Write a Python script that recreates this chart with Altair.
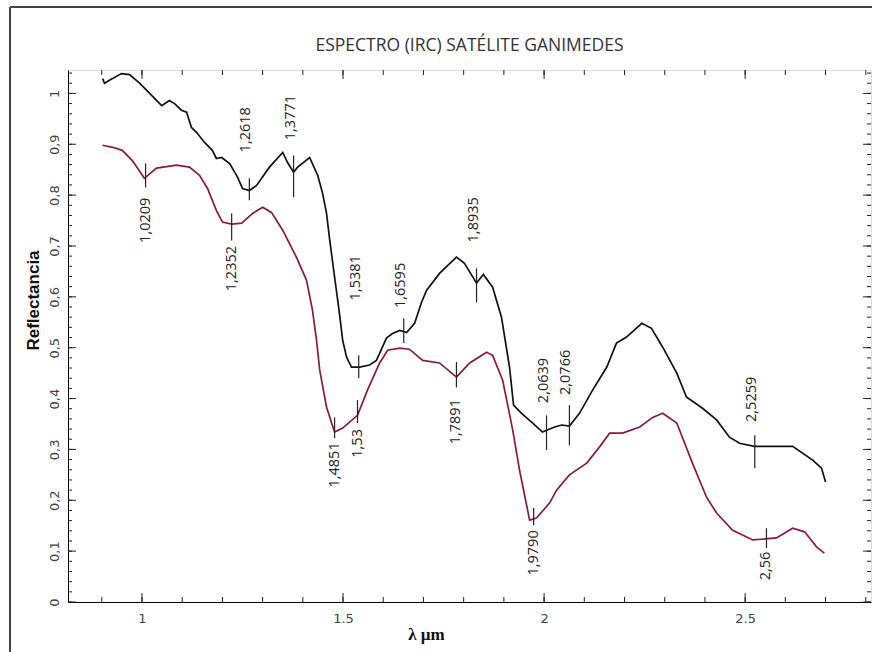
import altair as alt
import pandas as pd

# ---------------- data ----------------
black_x = [0.902, 0.907, 0.919, 0.949, 0.969, 0.994, 1.024, 1.049, 1.068, 1.081,
           1.098, 1.111, 1.123, 1.136, 1.155, 1.175, 1.185, 1.198, 1.218, 1.238,
           1.250, 1.267, 1.285, 1.317, 1.350, 1.362, 1.377, 1.387, 1.417, 1.437,
           1.449, 1.459, 1.466, 1.479, 1.491, 1.499, 1.509, 1.521, 1.541, 1.566,
           1.583, 1.608, 1.623, 1.641, 1.658, 1.678, 1.695, 1.708, 1.740, 1.782,
           1.802, 1.832, 1.849, 1.872, 1.894, 1.914, 1.924, 1.944, 1.971, 1.996,
           2.026, 2.044, 2.063, 2.088, 2.121, 2.156, 2.180, 2.205, 2.243, 2.267,
           2.295, 2.330, 2.354, 2.394, 2.429, 2.461, 2.486, 2.523, 2.618, 2.668,
           2.690, 2.700]
black_y = [1.029, 1.020, 1.026, 1.039, 1.037, 1.020, 0.996, 0.976, 0.986, 0.980,
           0.967, 0.963, 0.933, 0.923, 0.904, 0.888, 0.872, 0.874, 0.862, 0.835,
           0.813, 0.809, 0.819, 0.855, 0.884, 0.864, 0.845, 0.855, 0.874, 0.839,
           0.804, 0.764, 0.717, 0.639, 0.568, 0.515, 0.481, 0.462, 0.462, 0.466,
           0.475, 0.519, 0.528, 0.534, 0.530, 0.548, 0.589, 0.613, 0.646, 0.678,
           0.666, 0.627, 0.644, 0.619, 0.560, 0.462, 0.387, 0.371, 0.352, 0.334,
           0.344, 0.348, 0.346, 0.371, 0.417, 0.462, 0.509, 0.521, 0.548, 0.538,
           0.501, 0.450, 0.403, 0.381, 0.358, 0.324, 0.312, 0.306, 0.306, 0.279,
           0.263, 0.236]

red_x = [0.902, 0.927, 0.951, 0.976, 1.006, 1.036, 1.086, 1.118, 1.143, 1.163,
         1.185, 1.200, 1.223, 1.248, 1.275, 1.300, 1.322, 1.350, 1.384, 1.409,
         1.424, 1.434, 1.442, 1.459, 1.479, 1.499, 1.536, 1.561, 1.591, 1.611,
         1.641, 1.665, 1.698, 1.740, 1.782, 1.815, 1.857, 1.872, 1.897, 1.922,
         1.939, 1.964, 1.981, 2.014, 2.031, 2.063, 2.106, 2.138, 2.163, 2.195,
         2.238, 2.270, 2.295, 2.330, 2.369, 2.404, 2.429, 2.469, 2.519, 2.578,
         2.618, 2.648, 2.678, 2.697]
red_y = [0.898, 0.894, 0.888, 0.868, 0.833, 0.853, 0.859, 0.855, 0.839, 0.813,
         0.770, 0.747, 0.743, 0.745, 0.764, 0.776, 0.766, 0.731, 0.678, 0.633,
         0.574, 0.515, 0.456, 0.383, 0.334, 0.342, 0.367, 0.417, 0.470, 0.495,
         0.499, 0.497, 0.475, 0.470, 0.442, 0.470, 0.491, 0.485, 0.436, 0.338,
         0.259, 0.161, 0.165, 0.195, 0.220, 0.250, 0.273, 0.305, 0.332, 0.332,
         0.344, 0.363, 0.371, 0.352, 0.273, 0.206, 0.175, 0.141, 0.122, 0.126,
         0.145, 0.138, 0.108, 0.096]

# band markers: label, position, marker span, label anchor, side
ann_text = ["1,2618", "1,3771", "1,5381", "1,6595", "1,8935", "2,0639", "2,0766", "2,5259",
            "1,0209", "1,2352", "1,4851", "1,53", "1,7891", "1,9790", "2,56"]
ann_x = [1.267, 1.377, 1.539, 1.651, 1.832, 2.006, 2.063, 2.524,
         1.009, 1.223, 1.479, 1.536, 1.782, 1.974, 2.553]
ann_y1 = [0.833, 0.878, 0.485, 0.558, 0.656, 0.367, 0.387, 0.328,
          0.862, 0.764, 0.363, 0.397, 0.472, 0.185, 0.145]
ann_y2 = [0.790, 0.796, 0.440, 0.509, 0.589, 0.299, 0.308, 0.263,
          0.815, 0.711, 0.322, 0.352, 0.422, 0.151, 0.106]
ann_ly = [0.884, 0.908, 0.593, 0.578, 0.707, 0.391, 0.407, 0.354,
          0.795, 0.700, 0.314, 0.340, 0.399, 0.141, 0.099]
ann_side = ["up"] * 8 + ["down"] * 7

x_tick_labels = [1, 1.5, 2, 2.5]
x_minor = [0.9, 1.0, 1.1, 1.2, 1.3, 1.4, 1.5, 1.6, 1.7, 1.8, 1.9, 2.0,
           2.1, 2.2, 2.3, 2.4, 2.5, 2.6, 2.7, 2.8]
y_tick_labels = [0, 0.1, 0.2, 0.3, 0.4, 0.5, 0.6, 0.7, 0.8, 0.9, 1.0]
y_minor = [round(0.02 * i, 2) for i in range(53)]

TITLE = "ESPECTRO (IRC) SATÉLITE GANIMEDES"

# ---------------- layout ----------------
W, H = 803, 532
XDOM = [0.816, 2.813]
YDOM = [0, 1.046]
INK = "#111111"
RED = "#8b1a3d"

xs = alt.Scale(domain=XDOM, nice=False, zero=False)
ys = alt.Scale(domain=YDOM, nice=False, zero=False)

black = pd.DataFrame({"x": black_x, "y": black_y})
red = pd.DataFrame({"x": red_x, "y": red_y})
ann = pd.DataFrame({"t": ann_text, "x": ann_x, "y1": ann_y1, "y2": ann_y2,
                    "ly": ann_ly, "side": ann_side})
xmin_df = pd.DataFrame({"v": x_minor})
xmaj_df = pd.DataFrame({"v": x_tick_labels})
ymin_df = pd.DataFrame({"v": y_minor})
ymaj_df = pd.DataFrame({"v": y_tick_labels})

x_axis = alt.Axis(values=x_tick_labels, ticks=False, grid=False, format="~g",
                  labelFont="DejaVu Sans", labelFontSize=13, labelColor="#444",
                  labelPadding=10, domainColor="#000",
                  title="λ µm", titleFont="Liberation Serif", titleFontSize=17,
                  titleFontWeight="bold", titleColor="#111",
                  titleX=358, titleY=32, titleAlign="center", titleBaseline="middle")
y_axis = alt.Axis(values=y_tick_labels, ticks=False, grid=False,
                  labelExpr="replace(format(datum.value, '.1~f'), '.', ',')",
                  labelFont="DejaVu Sans", labelFontSize=13, labelColor="#444",
                  labelAngle=270, labelAlign="center", labelBaseline="bottom",
                  labelPadding=7, domainColor="#000",
                  title="Reflectancia", titleFont="Liberation Sans", titleFontSize=17,
                  titleFontWeight="bold", titleColor="#111", titleAngle=270,
                  titleX=-35, titleY=230, titleAlign="center", titleBaseline="middle")


def X(field):
    return alt.X(field, type="quantitative", scale=xs, axis=x_axis)


def Y(field):
    return alt.Y(field, type="quantitative", scale=ys, axis=y_axis)


base_line = alt.Chart(black).mark_line(color=INK, strokeWidth=1.7).encode(
    x=X("x"), y=Y("y"))
red_line = alt.Chart(red).mark_line(color=RED, strokeWidth=1.7).encode(
    x=X("x"), y=Y("y"))

marks = alt.Chart(ann).mark_rule(color="#222", strokeWidth=1.2).encode(
    x=X("x"), y=Y("y1"), y2="y2:Q")
lab_up = alt.Chart(ann).transform_filter("datum.side == 'up'").mark_text(
    angle=270, align="left", baseline="middle", font="Open Sans", fontSize=14.5,
    color="#222", dy=-3
).encode(x=X("x"), y=Y("ly"), text="t:N")
lab_dn = alt.Chart(ann).transform_filter("datum.side == 'down'").mark_text(
    angle=270, align="right", baseline="middle", font="Open Sans", fontSize=14.5,
    color="#222"
).encode(x=X("x"), y=Y("ly"), text="t:N")


# inward axis ticks on all four sides
def xt(df, y0, y1):
    return alt.Chart(df).mark_rule(color="#222", strokeWidth=1).encode(
        x=X("v"), y=alt.value(y0), y2=alt.value(y1))


def yt(df, x0, x1):
    return alt.Chart(df).mark_rule(color="#222", strokeWidth=1).encode(
        y=Y("v"), x=alt.value(x0), x2=alt.value(x1))


ticks = [
    xt(xmin_df, H, H - 5), xt(xmaj_df, H, H - 9),
    xt(xmin_df, 0, 5), xt(xmaj_df, 0, 9),
    yt(ymin_df, 0, 4), yt(ymaj_df, 0, 8),
    yt(ymin_df, W, W - 4), yt(ymaj_df, W, W - 8),
]

frame_l = alt.Chart(black).mark_rule(color="#444", strokeWidth=1.5).encode(
    x=alt.value(-58), y=alt.value(-63), y2=alt.value(H + 50))
frame_t = alt.Chart(black).mark_rule(color="#444", strokeWidth=1.5).encode(
    x=alt.value(-58), x2=alt.value(W + 1), y=alt.value(-63))

chart = alt.layer(
    base_line, red_line, marks, lab_up, lab_dn, *ticks, frame_l, frame_t
).properties(
    width=W, height=H,
    title=alt.TitleParams(TITLE, font="Open Sans", fontSize=17.5, fontWeight="normal",
                          color="#333", anchor="middle", frame="group",
                          baseline="alphabetic", offset=-62),
    padding={"left": 68, "top": 70, "right": 1, "bottom": 50},
    autosize=alt.AutoSizeParams(type="none"),
).configure_view(stroke="#555", strokeWidth=1).configure(background="white")

chart.save("out.html", embed_options={"renderer": "svg", "actions": False})
